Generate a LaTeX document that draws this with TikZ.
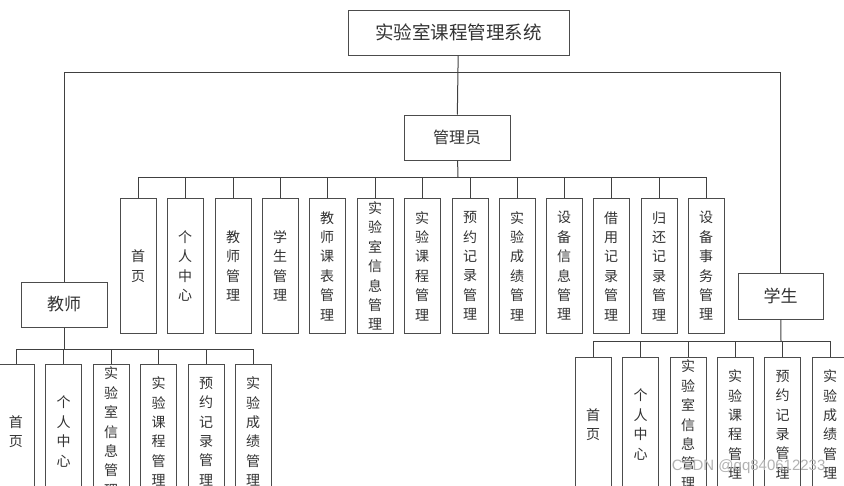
\documentclass[tikz,border=0pt]{standalone}
\usepackage{fontspec}
\setmainfont{Liberation Sans}
\newfontfamily\cjk{Noto Sans CJK SC}
\begin{document}
\begin{tikzpicture}[x=1pt,y=-1pt,
  ln/.style={draw=black!75, line width=1pt},
  hbox/.style={draw=black!70, line width=1pt, fill=white, text=black!80, inner sep=0pt},
  vbox/.style={hbox, minimum width=36pt, minimum height=135pt, align=center,
     font=\cjk\fontsize{14}{19.4}\selectfont},
  wmark/.style={text=black!30, font=\fontsize{15}{15}\selectfont}]
\useasboundingbox (0,0) rectangle (844,485);
\clip (0,0) rectangle (844,485);
% top
\node[hbox, minimum width=221pt, minimum height=45pt, font=\cjk\fontsize{18.5}{20}\selectfont] (sys) at (458.5,32.5) {实验室课程管理系统};
\node[hbox, minimum width=106pt, minimum height=45pt, font=\cjk\fontsize{16}{18}\selectfont] (adm) at (457,137.5) {管理员};
\node[hbox, minimum width=86pt, minimum height=45pt, font=\cjk\fontsize{17}{18}\selectfont] (tea) at (64,304.5) {教师};
\node[hbox, minimum width=85pt, minimum height=46pt, font=\cjk\fontsize{17}{18}\selectfont] (stu) at (780.5,296) {学生};
\coordinate (tbar) at (458,72);
\coordinate (abar) at (458,177);
\coordinate (teabar) at (64,349);
\coordinate (stubar) at (781,341);
\draw[ln] (sys) -- (adm);
\draw[ln] (tea.north) |- (tbar);
\draw[ln] (stu.north) |- (tbar);
\draw[ln] (adm) -- (abar);
\draw[ln] (tea) -- (teabar);
\draw[ln] (stu) -- (stubar);
% admin children
\foreach \i/\x/\t in {a1/138/首\\页, a2/185/个\\人\\中\\心, a3/233/教\\师\\管\\理, a4/280/学\\生\\管\\理,
  a5/327/教\\师\\课\\表\\管\\理, a6/375/实\\验\\室\\信\\息\\管\\理, a7/422/实\\验\\课\\程\\管\\理,
  a8/470/预\\约\\记\\录\\管\\理, a9/517/实\\验\\成\\绩\\管\\理, a10/564/设\\备\\信\\息\\管\\理,
  a11/611/借\\用\\记\\录\\管\\理, a12/659/归\\还\\记\\录\\管\\理, a13/706/设\\备\\事\\务\\管\\理}{
  \node[vbox] (\i) at (\x,266) {\t};
  \draw[ln] (\i.north) |- (abar);
}
% teacher children
\foreach \i/\x/\t in {t1/16/首\\页, t2/63.5/个\\人\\中\\心, t3/111/实\\验\\室\\信\\息\\管\\理,
  t4/158.5/实\\验\\课\\程\\管\\理, t5/206/预\\约\\记\\录\\管\\理, t6/253/实\\验\\成\\绩\\管\\理}{
  \node[vbox] (\i) at (\x,431.5) {\t};
  \draw[ln] (\i.north) |- (teabar);
}
% student children
\foreach \i/\x/\t in {s1/593/首\\页, s2/640.5/个\\人\\中\\心, s3/688/实\\验\\室\\信\\息\\管\\理,
  s4/735/实\\验\\课\\程\\管\\理, s5/782.5/预\\约\\记\\录\\管\\理, s6/830/实\\验\\成\\绩\\管\\理}{
  \node[vbox] (\i) at (\x,424.5) {\t};
  \draw[ln] (\i.north) |- (stubar);
}
\node[wmark, anchor=east] (wm) at (829,467) {CSDN @qq840612233};
\end{tikzpicture}
\end{document}
